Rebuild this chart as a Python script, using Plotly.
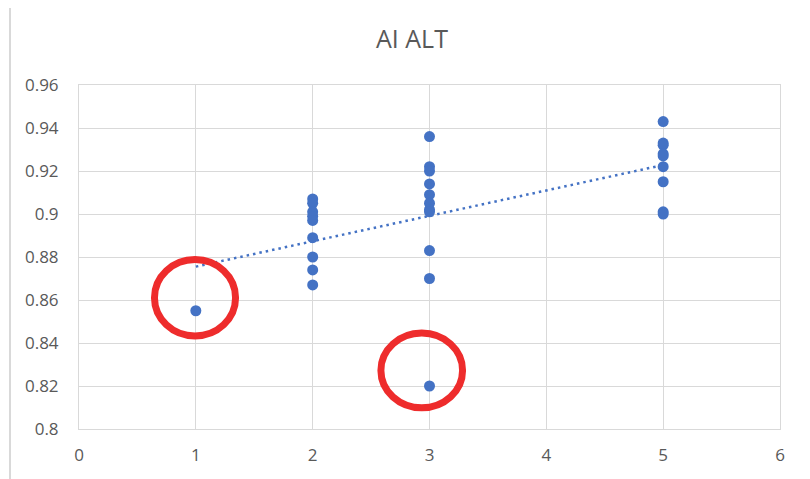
import numpy as np
import plotly.graph_objects as go

# Data
x_vals = [1,
          2, 2, 2, 2, 2, 2, 2, 2, 2,
          3, 3, 3, 3, 3, 3, 3, 3, 3, 3, 3,
          5, 5, 5, 5, 5, 5, 5, 5, 5]
y_vals = [0.855,
          0.907, 0.905, 0.901, 0.899, 0.897, 0.889, 0.880, 0.874, 0.867,
          0.936, 0.922, 0.920, 0.914, 0.909, 0.905, 0.902, 0.901, 0.883, 0.870, 0.820,
          0.943, 0.933, 0.932, 0.928, 0.927, 0.922, 0.915, 0.901, 0.900]
y_ticks = [0.8, 0.82, 0.84, 0.86, 0.88, 0.9, 0.92, 0.94, 0.96]
y_tick_labels = ["0.8", "0.82", "0.84", "0.86", "0.88", "0.9", "0.92", "0.94", "0.96"]
x_ticks = [0, 1, 2, 3, 4, 5, 6]
title_text = "AI ALT"

# Linear trendline (least squares), drawn from min x to max x
slope, intercept = np.polyfit(x_vals, y_vals, 1)
tx = [min(x_vals), max(x_vals)]
ty = [slope * v + intercept for v in tx]

blue = "#4472C4"
grid = "#D9D9D9"
txt = "#595959"
red = "#EE2C2C"

fig = go.Figure()
fig.add_trace(go.Scatter(x=tx, y=ty, mode="lines",
                         line=dict(color=blue, width=2.5, dash="2.5px,4px"),
                         hoverinfo="skip", showlegend=False))
fig.add_trace(go.Scatter(x=x_vals, y=y_vals, mode="markers",
                         marker=dict(color=blue, size=11, line=dict(width=0)),
                         showlegend=False))

# Red highlight circles
fig.add_shape(type="circle", xref="x", yref="y", x0=0.646, x1=1.340, y0=0.8433, y1=0.8788,
              line=dict(color=red, width=7), layer="above")
fig.add_shape(type="circle", xref="x", yref="y", x0=2.584, x1=3.283, y0=0.8099, y1=0.8446,
              line=dict(color=red, width=7), layer="above")

# Outer chart border
fig.add_shape(type="rect", xref="paper", yref="paper", x0=-0.0984, x1=1.036, y0=-0.3, y1=1.238,
              line=dict(color=grid, width=2), layer="below")

# The page body has an 8px default margin; offset the layout to compensate
off = 8
fig.update_layout(
    width=810, height=479,
    margin=dict(l=79 - off, r=30 + off, t=85 - off, b=50 + off, autoexpand=False),
    paper_bgcolor="white", plot_bgcolor="white",
    font=dict(family="Open Sans, sans-serif", size=17, color=txt),
    title=dict(text=title_text, x=(412 - off) / 810, xref="container", xanchor="center",
               y=1 - (39 - off) / 479, yref="container", yanchor="middle",
               font=dict(size=25, color=txt)),
)
fig.update_xaxes(range=[0, 6], tickvals=x_ticks, showgrid=True, gridcolor=grid, gridwidth=1,
                 zeroline=False, showline=True, linecolor=grid, mirror=True,
                 ticks="", ticklabelstandoff=11, tickfont=dict(size=17, color=txt))
fig.update_yaxes(range=[0.8, 0.96], tickvals=y_ticks, ticktext=y_tick_labels,
                 showgrid=True, gridcolor=grid, gridwidth=1,
                 zeroline=False, showline=True, linecolor=grid, mirror=True,
                 ticks="", ticklabelstandoff=16, tickfont=dict(size=17, color=txt))

fig.write_html("out.html")
